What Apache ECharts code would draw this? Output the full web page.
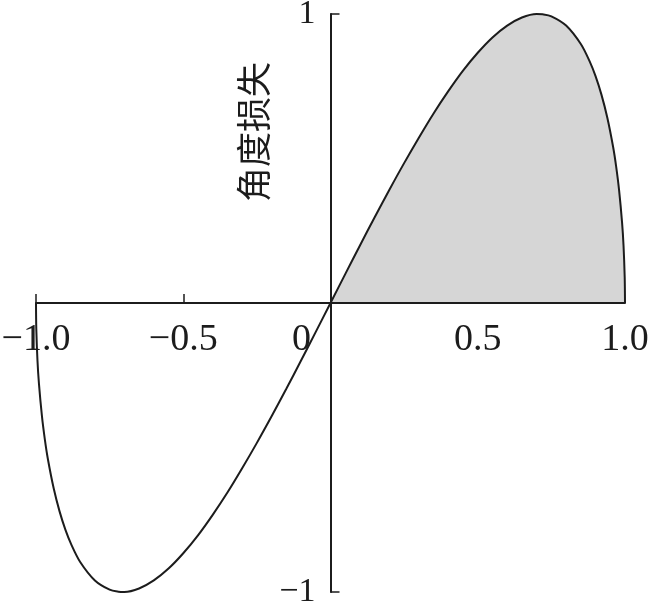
<!DOCTYPE html>
<html>
<head>
<meta charset="utf-8">
<script src="https://cdn.jsdelivr.net/npm/echarts@6/dist/echarts.min.js"></script>
<style>html,body{margin:0;padding:0;background:#fff;}#c{width:650px;height:604px;}</style>
</head>
<body>
<div id="c"></div>
<script>
// Curve: left (negative) branch and right (positive, shaded) branch
var negX = [-1, -0.999, -0.995, -0.99, -0.98, -0.97, -0.96, -0.94, -0.92, -0.9, -0.88, -0.85, -0.8, -0.75, -0.72, -0.7, -0.65, -0.6, -0.55, -0.5, -0.45, -0.4, -0.35, -0.3, -0.25, -0.2, -0.15, -0.1, -0.05, 0];
var negY = [0, -0.089, -0.199, -0.279, -0.390, -0.472, -0.538, -0.641, -0.721, -0.785, -0.836, -0.896, -0.960, -0.992, -0.999, -1.0, -0.988, -0.960, -0.919, -0.866, -0.804, -0.733, -0.656, -0.572, -0.484, -0.392, -0.297, -0.199, -0.100, 0];
var posX = [0, 0.05, 0.1, 0.15, 0.2, 0.25, 0.3, 0.35, 0.4, 0.45, 0.5, 0.55, 0.6, 0.65, 0.7, 0.72, 0.75, 0.8, 0.85, 0.88, 0.9, 0.92, 0.94, 0.96, 0.97, 0.98, 0.99, 0.995, 0.999, 1];
var posY = [0, 0.100, 0.199, 0.297, 0.392, 0.484, 0.572, 0.656, 0.733, 0.804, 0.866, 0.919, 0.960, 0.988, 1.0, 0.999, 0.992, 0.960, 0.896, 0.836, 0.785, 0.721, 0.641, 0.538, 0.472, 0.390, 0.279, 0.199, 0.089, 0];
var xTicks = [-1, -0.5];
var xLabels = {'-1': '\u22121.0', '-0.5': '\u22120.5', '0': '0', '0.5': '0.5', '1': '1.0'};
var yLabels = {'1': '1', '-1': '\u22121'};
var yName = '角度损失';

function pairs(xs, ys) { return xs.map(function (x, i) { return [x, ys[i]]; }); }

var chart = echarts.init(document.getElementById('c'), null, {renderer: 'canvas'});
var ink = '#1c1c1c';
var gridL = 36, gridR = 25, gridT = 14, gridB = 12;
var W = 650, H = 604;
var plotW = W - gridL - gridR, plotH = H - gridT - gridB;
chart.setOption({
  animation: false,
  backgroundColor: '#fff',
  grid: {left: gridL, right: gridR, top: gridT, bottom: gridB, containLabel: false, outerBoundsMode: 'none'},
  xAxis: {
    type: 'value', min: -1, max: 1, interval: 0.5, z: 5, position: 'bottom',
    offset: -plotH / 2,
    axisLine: {onZero: false, lineStyle: {color: ink, width: 2}},
    axisTick: {show: true, inside: true, length: 9, customValues: xTicks, lineStyle: {color: ink, width: 1.5}},
    splitLine: {show: false},
    axisLabel: {
      margin: 18, color: ink, fontFamily: 'Liberation Serif', fontSize: 38,
      showMinLabel: true, showMaxLabel: true, hideOverlap: false,
      formatter: function (v) {
        if (v === 0) return '{z|0}';
        return xLabels[String(v)] || '';
      },
      rich: {z: {fontFamily: 'Liberation Serif', fontSize: 38, color: ink, padding: [0, 58, 0, 0]}}
    }
  },
  yAxis: {
    type: 'value', min: -1, max: 1, interval: 1, z: 5, position: 'left',
    offset: -plotW / 2,
    axisLine: {onZero: false, lineStyle: {color: ink, width: 2}},
    axisTick: {show: true, inside: true, length: 9, lineStyle: {color: ink, width: 1.5}},
    splitLine: {show: false},
    axisLabel: {
      margin: 15, color: ink, fontFamily: 'Liberation Serif', fontSize: 34,
      showMinLabel: true, showMaxLabel: true,
      formatter: function (v) { return yLabels[String(v)] || ''; }
    }
  },
  graphic: [{
    type: 'text', left: 236, top: 62, rotation: Math.PI / 2,
    style: {text: yName, fontFamily: 'Noto Sans CJK SC', fontSize: 35, fill: ink}
  }],
  series: [
    {
      type: 'line', data: pairs(negX, negY), showSymbol: false, smooth: 0.3, z: 3,
      lineStyle: {color: ink, width: 2}
    },
    {
      type: 'line', data: pairs(posX, posY), showSymbol: false, smooth: 0.3, z: 3,
      lineStyle: {color: ink, width: 2},
      areaStyle: {color: '#d6d6d6', opacity: 1, origin: 0}
    }
  ]
});
</script>
</body>
</html>
